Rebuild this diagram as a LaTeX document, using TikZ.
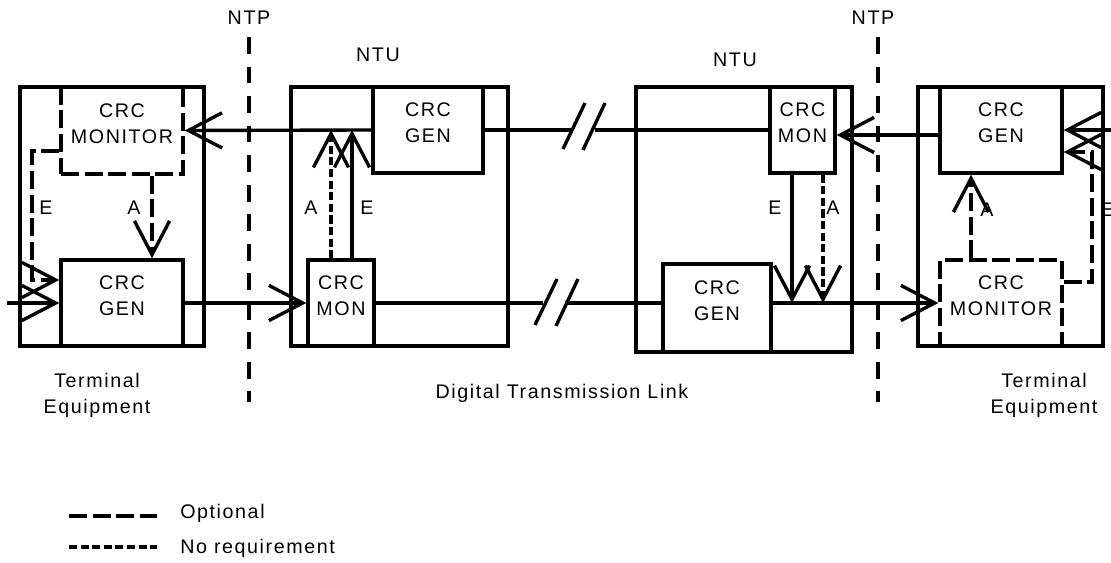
\documentclass[tikz,border=0pt]{standalone}
\usepackage{fontspec}
\setmainfont{Liberation Sans}[LetterSpace=8]
\usetikzlibrary{arrows.meta,fit}

\tikzset{
  unit/.style={draw, line width=2.4pt, inner sep=0pt},
  blk/.style={draw, line width=2.4pt, inner sep=0pt, align=center, font=\fontsize{14}{18.5}\selectfont},
  opt/.style={dash pattern=on 12.8pt off 4pt},
  noreq/.style={dash pattern=on 5.7pt off 2.55pt},
  ntp/.style={line width=2.4pt, dash pattern=on 12pt off 9pt},
  lbl/.style={font=\fontsize{14}{18.5}\selectfont, inner sep=0pt},
  wire/.style={line width=2.4pt},
  sig/.style={wire, -{Straight Barb[length=24pt,width=25pt]}},
}

\begin{document}
\begin{tikzpicture}[x=0.025cm,y=-0.025cm]
  \useasboundingbox (0,0) rectangle (1111,563);
  % network termination points
  \node[lbl] (ntp1) at (249,18) {NTP};
  \node[lbl] (ntp2) at (873,18) {NTP};
  \draw[ntp] (249,37) -- (249,402);
  \draw[ntp] (878,37) -- (878,402);
  \node[lbl] (ntu1) at (378,55) {NTU};
  \node[lbl] (ntu2) at (735,60) {NTU};

  % left terminal
  \node[unit, fit={(20,87)(204,346)}] (te1) {};
  \node[blk, opt, fit={(61,87)(183,174)}] (tmon1) {CRC\\MONITOR};
  \node[blk, fit={(61,260)(183,346)}] (tgen1) {CRC\\GEN};
  % left NTU
  \node[unit, fit={(291,87)(508,346)}] (nt1) {};
  \node[blk, fit={(373,87)(483,173)}] (ngen1) {CRC\\GEN};
  \node[blk, fit={(308,260)(374,346)}] (nmon1) {CRC\\MON};
  % right NTU
  \node[unit, fit={(636,87)(852,352)}] (nt2) {};
  \node[blk, fit={(770,87)(835,173)}] (nmon2) {CRC\\MON};
  \node[blk, fit={(663,264)(771,352)}] (ngen2) {CRC\\GEN};
  % right terminal
  \node[unit, fit={(918,87)(1103,346)}] (te2) {};
  \node[blk, fit={(940,87)(1062,173)}] (tgen2) {CRC\\GEN};
  \node[blk, opt, fit={(940,260)(1062,346)}] (tmon2) {CRC\\MONITOR};

  % main signal path
  \coordinate (in1) at (7,303);
  \coordinate (in2) at (1111,130);
  \draw[sig] (in1) -- (tgen1.west);
  \draw[sig] (tgen1.east) -- (nmon1.west);
  \draw[sig] (ngen1.west) -- (tmon1.east);
  \draw[sig] (ngen2.east |- tmon2.west) -- (tmon2.west);
  \draw[sig] (tgen2.west |- 0,135) -- (nmon2.east |- 0,135);
  \draw[sig] (in2) -- (tgen2.east);

  % link with breaks
  \coordinate (b1) at (572,130);
  \coordinate (b2) at (595,130);
  \coordinate (b3) at (543,303);
  \coordinate (b4) at (565,303);
  \draw[wire] (ngen1.east) -- (b1);
  \draw[wire] (b2) -- (nmon2.west);
  \draw[wire] (563,149) -- (585,103) (583,150) -- (605,103);
  \draw[wire] (nmon1.east) -- (b3);
  \draw[wire] (b4) -- (ngen2.west |- b4);
  \draw[wire] (535,325) -- (557,279) (556,326) -- (578,279);

  % A and E indications
  \draw[sig, opt] (tmon1.west |- 0,151) -- (32,151) -- (32,280) -- (tgen1.west |- 0,280);
  \draw[sig, opt] (tmon1.south -| 152,0) -- (tgen1.north -| 152,0);
  \draw[sig, noreq] (nmon1.north -| 331,0) -- (331,130);
  \draw[sig] (nmon1.north -| 352,0) -- (352,130);
  \draw[sig] (nmon2.south -| 792,0) -- (792,303);
  \draw[sig, noreq] (nmon2.south -| 823,0) -- (823,303);
  \draw[sig, opt] (tmon2.north -| 971,0) -- (tgen2.south -| 971,0);
  \draw[sig, opt] (tmon2.east |- 0,282) -- (1092,282) -- (1092,152) -- (tgen2.east |- 0,152);
  \node[lbl] (e1) at (46,208) {E};
  \node[lbl] (a1) at (134,208) {A};
  \node[lbl] (a2) at (311,208) {A};
  \node[lbl] (e2) at (367,208) {E};
  \node[lbl] (e3) at (775,208) {E};
  \node[lbl] (a3) at (833,208) {A};
  \node[lbl] (a4) at (987,210) {A};
  \node[lbl, anchor=west] (e4) at (1101,210) {E};

  % captions
  \node[lbl, align=center] (cap1) at (97,395) {Terminal\\Equipment};
  \node[lbl] (cap2) at (562,393) {Digital Transmission Link};
  \node[lbl, align=center] (cap3) at (1044,395) {Terminal\\Equipment};

  % legend
  \coordinate (lg1) at (69,516);
  \coordinate (lg2) at (157,516);
  \coordinate (lg3) at (69,547);
  \coordinate (lg4) at (157,547);
  \draw[wire, opt] (lg1) -- (lg2);
  \draw[wire, noreq] (lg3) -- (lg4);
  \node[lbl, right] (lopt) at (180,513) {Optional};
  \node[lbl, right] (lnoreq) at (180,548) {No requirement};
\end{tikzpicture}
\end{document}
